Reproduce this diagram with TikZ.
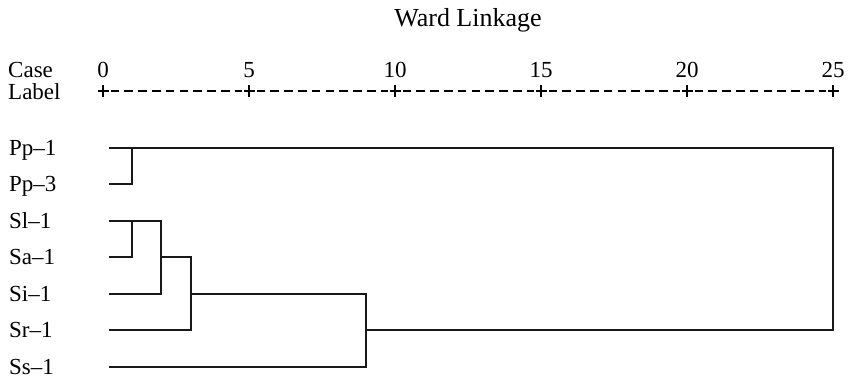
\documentclass[tikz,border=0pt]{standalone}
\usepackage{fontspec}
\setmainfont{Liberation Serif}
\begin{document}
\begin{tikzpicture}[x=1pt,y=-1pt,
  txt/.style={inner sep=0pt,font=\fontsize{23}{23}\selectfont},
  lbl/.style={txt,anchor=base west},
  num/.style={txt,anchor=base},
  tree/.style={line width=1.7pt,line cap=rect,black!90},
  tick/.style={line width=1.2pt},
  axisdash/.style={line width=1.2pt,dash pattern=on 8.6pt off 5.2pt}
]
\useasboundingbox (0,0) rectangle (848,381);

% title
\node[txt,anchor=base,font=\fontsize{26}{26}\selectfont] (title) at (468,26) {Ward Linkage};

% header
\node[lbl] (case) at (8,77) {Case};
\node[lbl] (label) at (8,99) {Label};

% axis
\foreach \k/\v in {0/0,1/5,2/10,3/15,4/20,5/25}{
  \coordinate (t\k) at ({103+146*\k},91);
  \node[num] (n\k) at ({103+146*\k},77) {\v};
  \draw[tick] ([xshift=-5.5pt]t\k) -- ([xshift=5.5pt]t\k);
  \draw[tick] ([yshift=-6pt]t\k) -- ([yshift=6pt]t\k);
}
\foreach \k [evaluate=\k as \j using int(\k+1)] in {0,...,4}{
  \draw[axisdash] ([xshift=7.5pt]t\k) -- ([xshift=-7.5pt]t\j);
}

% leaves
\foreach \n/\t/\y in {a/Pp--1/148,b/Pp--3/184,c/Sl--1/221,d/Sa--1/257,e/Si--1/294,f/Sr--1/330,g/Ss--1/367}{
  \node[lbl] (L\n) at (9,\y+7) {\t};
  \coordinate (s\n) at (110,\y);
}

% merge points
\coordinate (m1) at (132,148);  % Pp-1 + Pp-3
\coordinate (m2) at (132,221);  % Sl-1 + Sa-1
\coordinate (m3) at (161,221);  % + Si-1
\coordinate (m4) at (191,257);  % + Sr-1
\coordinate (m5) at (366,294);  % + Ss-1
\coordinate (m6) at (833,148);  % all

% dendrogram
\draw[tree] (sa) -- (m6) -- (m6 |- sf) -- (m5 |- sf);
\draw[tree] (sb) -- (m1 |- sb) -- (m1);
\draw[tree] (sc) -- (m3);
\draw[tree] (sd) -- (m2 |- sd) -- (m2);
\draw[tree] (se) -- (m3 |- se) -- (m3);
\draw[tree] (m3 |- sd) -- (m4);
\draw[tree] (sf) -- (m4 |- sf) -- (m4);
\draw[tree] (m4 |- se) -- (m5);
\draw[tree] (sg) -- (m5 |- sg) -- (m5);
\end{tikzpicture}
\end{document}
